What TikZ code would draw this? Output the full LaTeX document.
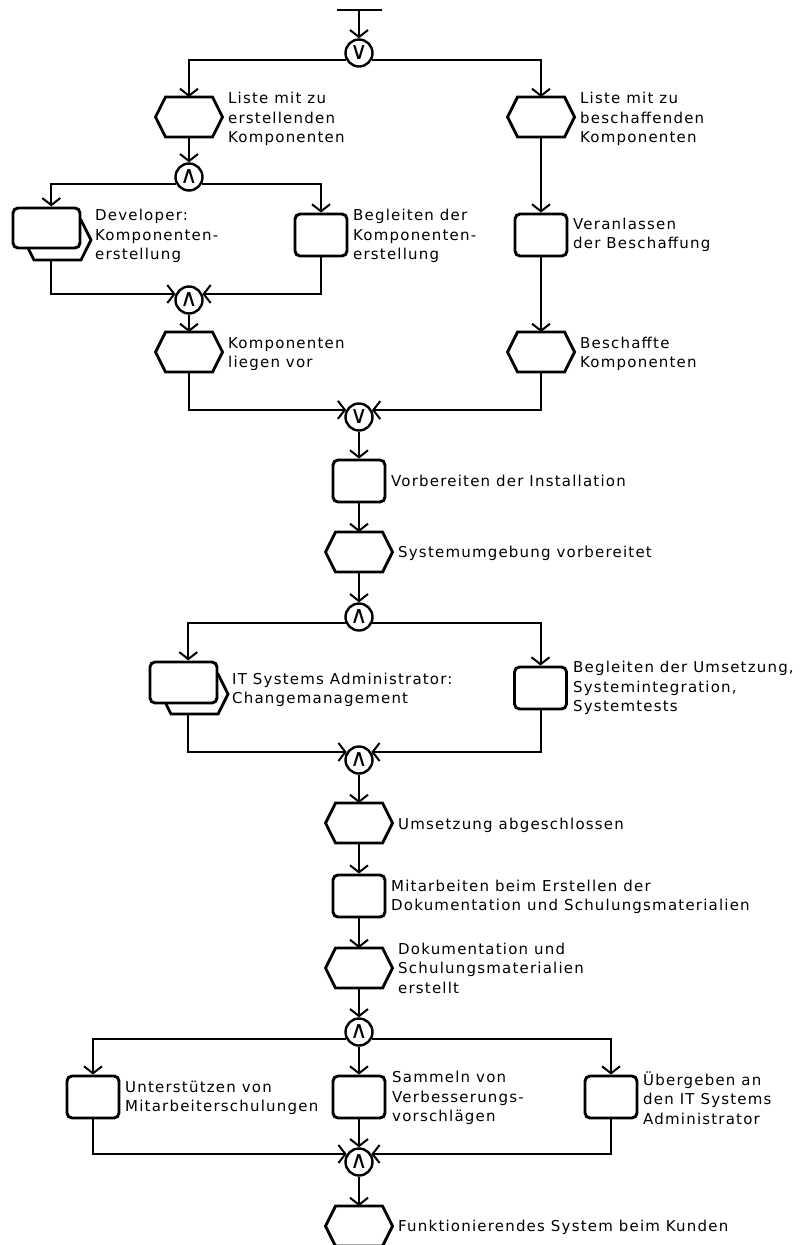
\documentclass[tikz,border=0pt]{standalone}
\usepackage{fontspec}
\setmainfont{DejaVu Sans}[LetterSpace=8]
\newfontfamily\symf{DejaVu Sans}
\usetikzlibrary{arrows.meta,fit}
\tikzset{
  x=1pt,y=-1pt,
  conn/.style={line width=2pt, -{Straight Barb[length=7pt,width=18pt]}},
  plain/.style={line width=2pt},
  actbox/.style={draw, line width=2.9pt, rounded corners=5pt, minimum width=52pt, minimum height=42pt, inner sep=0pt, fill=white},
  hexbox/.style={minimum width=67pt, minimum height=40pt, inner sep=0pt, outer sep=0pt},
  hexline/.style={draw, line width=2.9pt, line join=miter, fill=white},
  gate/.style={circle, draw, line width=2.4pt, minimum size=27pt, inner sep=0pt, font=\symf\fontsize{24}{24}\selectfont},
  lbl/.style={anchor=west, align=left, inner sep=0pt, font=\fontsize{15}{19.5}\selectfont},
}
\newcommand\hexnode[3]{%
  \node[hexbox] (#1) at (#2,#3) {};
  \draw[hexline] (#1.west) -- ([xshift=10pt]#1.north west) -- ([xshift=-10pt]#1.north east) -- (#1.east) -- ([xshift=-10pt]#1.south east) -- ([xshift=10pt]#1.south west) -- cycle;}
\begin{document}
\begin{tikzpicture}
\useasboundingbox[fill=white] (0,0) rectangle (802,1245);

% start bar
\coordinate (start) at (359,10);
\draw[plain] (337,10) -- (382,10);

% gates
\node[gate] (c1) at (359,53) {∨};
\node[gate] (c2) at (189,177) {∧};
\node[gate] (c3) at (189,300) {∧};
\node[gate] (c4) at (359,417) {∨};
\node[gate] (c5) at (359,617) {∧};
\node[gate] (c6) at (359,760) {∧};
\node[gate] (c7) at (359,1032) {∧};
\node[gate] (c8) at (359,1162) {∧};

% events (hexagons)
\hexnode{h1}{189}{117}
\hexnode{h2}{541}{117}
\hexnode{h3}{189}{352}
\hexnode{h4}{541}{352}
\hexnode{h5}{359}{552}
\hexnode{h6}{359}{823}
\hexnode{h7}{359}{968}
\hexnode{h8}{359}{1226}

% multi-instance activities
\hexnode{devB}{57.5}{240}
\node[actbox, minimum width=67pt, minimum height=40pt] (devF) at (46.5,228) {};
\node[fit=(devF)(devB), inner sep=0pt] (dev) {};
\hexnode{itB}{194.5}{694}
\node[actbox, minimum width=67pt, minimum height=41pt] (itF) at (183.5,682.5) {};
\node[fit=(itF)(itB), inner sep=0pt] (it) {};

% activities
\node[actbox] (beg1) at (321,235) {};
\node[actbox] (ver) at (541,235) {};
\node[actbox] (vorb) at (359,481) {};
\node[actbox] (beg2) at (540.5,688) {};
\node[actbox] (mit) at (359,896) {};
\node[actbox] (u) at (93,1097) {};
\node[actbox] (s) at (359,1097) {};
\node[actbox] (ub) at (611,1097) {};

% labels
\node[lbl] (t1) at (228,119) {Liste mit zu\\erstellenden\\Komponenten};
\node[lbl] (t2) at (580,119) {Liste mit zu\\beschaffenden\\Komponenten};
\node[lbl] (t3) at (95,236) {Developer:\\Komponenten-\\erstellung};
\node[lbl] (t4) at (353,236) {Begleiten der\\Komponenten-\\erstellung};
\node[lbl] (t5) at (573,235) {Veranlassen\\der Beschaffung};
\node[lbl] (t6) at (228,354) {Komponenten\\liegen vor};
\node[lbl] (t7) at (580,354) {Beschaffte\\Komponenten};
\node[lbl] (t8) at (391,481) {Vorbereiten der Installation};
\node[lbl] (t9) at (398,553) {Systemumgebung vorbereitet};
\node[lbl] (t10) at (232,690) {IT Systems Administrator:\\Changemanagement};
\node[lbl] (t11) at (573,688) {Begleiten der Umsetzung,\\Systemintegration,\\Systemtests};
\node[lbl] (t12) at (398,825) {Umsetzung abgeschlossen};
\node[lbl] (t13) at (391,897) {Mitarbeiten beim Erstellen der\\Dokumentation und Schulungsmaterialien};
\node[lbl] (t14) at (398,968) {Dokumentation und\\Schulungsmaterialien\\erstellt};
\node[lbl] (t15) at (125,1098) {Unterstützen von\\Mitarbeiterschulungen};
\node[lbl] (t16) at (392,1098) {Sammeln von\\Verbesserungs-\\vorschlägen};
\node[lbl] (t17) at (643,1098) {Übergeben an\\den IT Systems\\Administrator};
\node[lbl] (t18) at (398,1227) {Funktionierendes System beim Kunden};

% connectors
\draw[conn] (start) -- (c1.north);
\draw[conn] (c1.208.5) -| (h1.north);
\draw[conn] (c1.-28.5) -| (h2.north);
\draw[conn] (h1.south) -- (c2.north);
\draw[conn] (c2.208.5) -| (dev.north);
\draw[conn] (c2.-28.5) -| (beg1.north);
\draw[conn] (dev.south) |- (c3.156);
\draw[conn] (beg1.south) |- (c3.24);
\draw[conn] (c3.south) -- (h3.north);
\draw[conn] (h2.south) -- (ver.north);
\draw[conn] (ver.south) -- (h4.north);
\draw[conn] (h3.south) |- (c4.151.5);
\draw[conn] (h4.south) |- (c4.28.5);
\draw[conn] (c4.south) -- (vorb.north);
\draw[conn] (vorb.south) -- (h5.north);
\draw[conn] (h5.south) -- (c5.north);
\draw[conn] (c5.204) -| (it.north);
\draw[conn] (c5.-24) -| (beg2.north);
\draw[conn] (it.south) |- (c6.147);
\draw[conn] (beg2.south) |- (c6.33);
\draw[conn] (c6.south) -- (h6.north);
\draw[conn] (h6.south) -- (mit.north);
\draw[conn] (mit.south) -- (h7.north);
\draw[conn] (h7.south) -- (c7.north);
\draw[conn] (c7.208.5) -| (u.north);
\draw[conn] (c7.south) -- (s.north);
\draw[conn] (c7.-28.5) -| (ub.north);
\draw[conn] (u.south) |- (c8.147);
\draw[conn] (s.south) -- (c8.north);
\draw[conn] (ub.south) |- (c8.33);
\draw[conn] (c8.south) -- (h8.north);
\end{tikzpicture}
\end{document}
